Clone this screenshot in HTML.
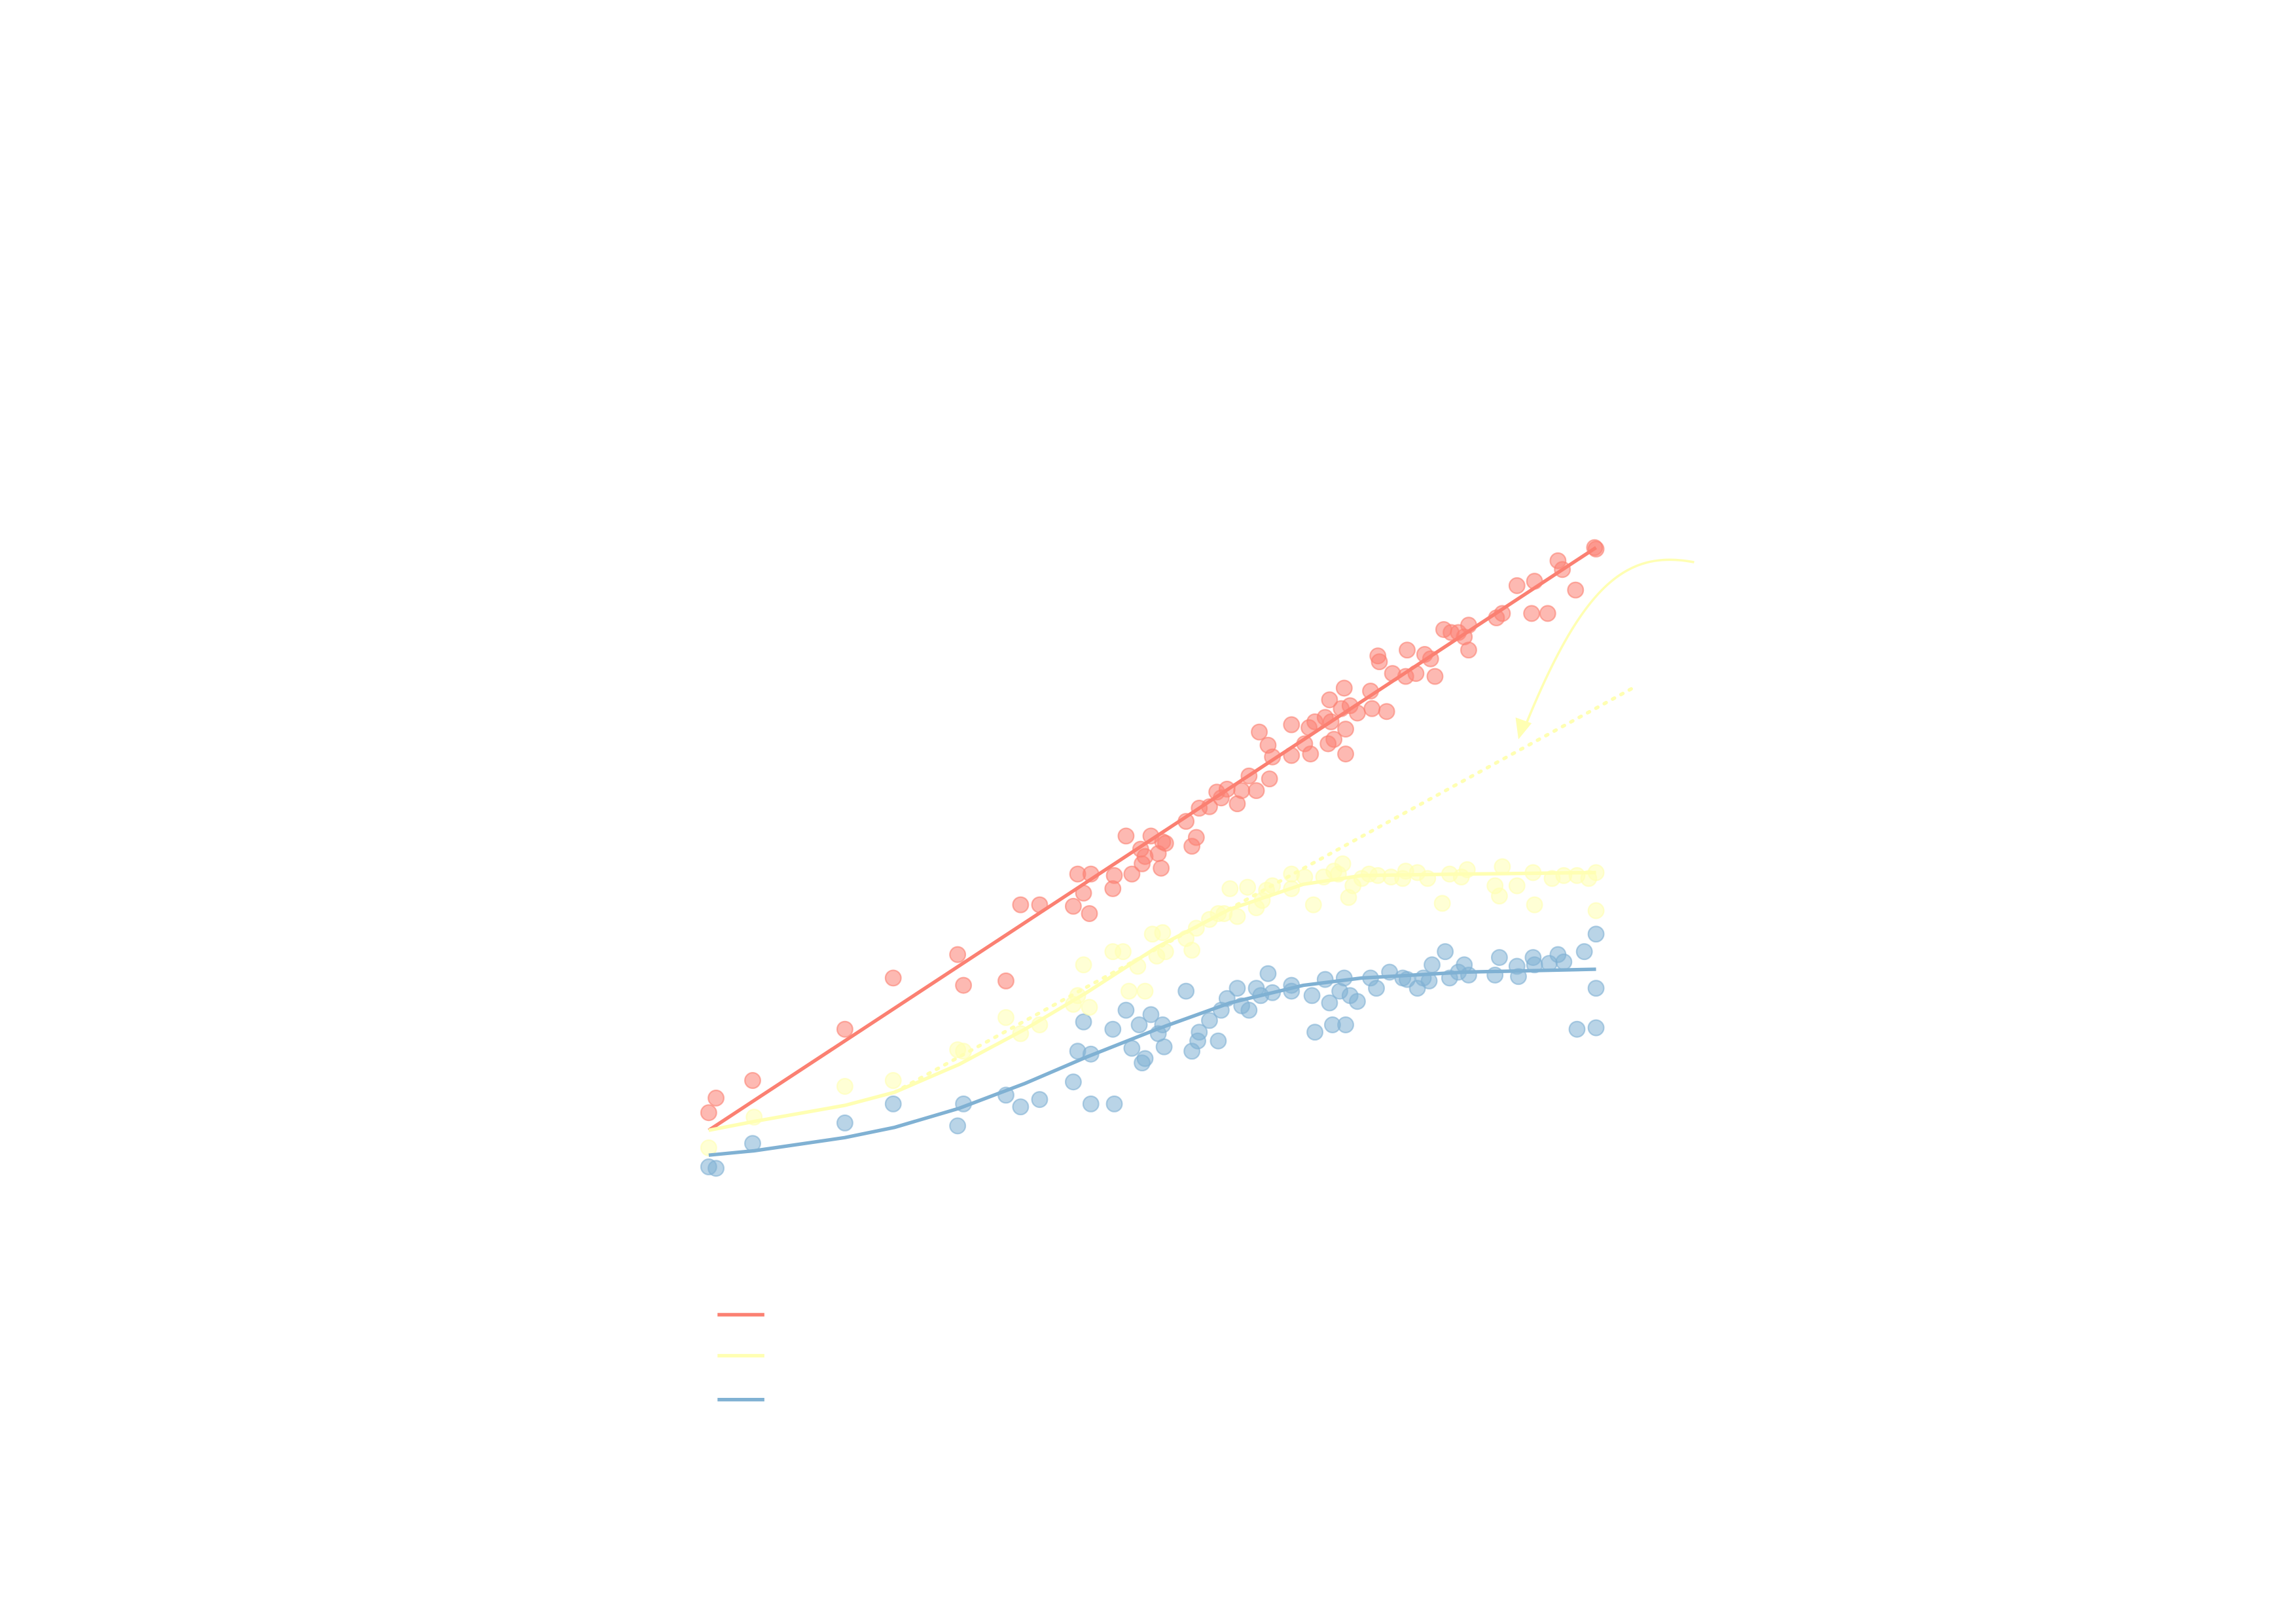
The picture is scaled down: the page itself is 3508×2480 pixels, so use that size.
<!DOCTYPE html>
<html><head><meta charset="utf-8"><style>
html,body{margin:0;padding:0;background:#fff;}
svg{display:block;}
</style></head><body>
<svg width="3508" height="2480" viewBox="0 0 1568 1108.55" xmlns="http://www.w3.org/2000/svg">
<rect width="1568" height="1108.55" fill="#fff"/>
<g id="pts"></g>
<polyline fill="none" stroke="#fb8072" stroke-width="2.4" points="484,772 1090,374"/>
<path fill="none" stroke="#ffffb3" stroke-width="2.4" stroke-dasharray="1.5,5" stroke-linecap="round" d="M611,746 L1115,470"/>
<polyline fill="none" stroke="#ffffb3" stroke-width="2.4" points="484,772 515,766 577,755 611,746 655,727 700,703 742,678 790,647 840,621 890,604 930,598 1000,597 1090,596"/>
<polyline fill="none" stroke="#80b1d3" stroke-width="2.4" points="484,789 515,786 577,777 611,770 655,757 700,740 742,722 790,703 840,685 890,673 930,668 1000,664 1090,662"/>
<path fill="none" stroke="#ffffb3" stroke-width="1.6" d="M1157,384 C1110,375 1080,400 1040,500"/>
<path fill="#ffffb3" d="M1037,505 L1035,490 L1046,494 Z"/>
<line x1="490" y1="898" x2="522" y2="898" stroke="#fb8072" stroke-width="2.4"/>
<line x1="490" y1="926" x2="522" y2="926" stroke="#ffffb3" stroke-width="2.4"/>
<line x1="490" y1="956" x2="522" y2="956" stroke="#80b1d3" stroke-width="2.4"/>
</svg>
<script>
var R=[[484,760],[489,750],[514,738],[577,703],[610,668],[654,652],[658,673],[687,670],[697,618],[710,618],[733,619],[736,597],[740,610],[744,624],[745,597],[760,607],[761,598],[769,571],[773,597],[779,580],[780,590],[782,585],[786,571],[791,583],[793,593],[794,575],[796,576],[810,561],[814,578],[817,572],[819,552],[826,551],[831,541],[834,545],[838,539],[845,549],[848,540],[853,530],[858,540],[860,500],[866,509],[867,532],[869,517],[882,495],[882,516],[891,508],[894,497],[895,515],[898,493],[905,490],[907,508],[908,478],[909,493],[911,505],[916,484],[918,470],[919,498],[919,515],[922,482],[927,487],[936,472],[937,484],[941,448],[942,452],[947,486],[951,460],[960,462],[961,444],[967,460],[973,447],[977,450],[980,462],[986,430],[991,432],[996,432],[1000,435],[1003,427],[1003,444],[1022,422],[1026,419],[1036,400],[1046,419],[1048,397],[1057,419],[1064,383],[1067,389],[1076,403],[1089,374],[1090,375]];
var Y=[[484,784],[515,763],[577,742],[610,738],[654,717],[658,718],[687,695],[697,706],[710,700],[733,686],[736,680],[740,659],[744,688],[760,650],[767,650],[771,677],[777,660],[782,677],[787,638],[790,653],[794,637],[796,650],[810,641],[814,649],[817,634],[826,628],[832,624],[836,624],[840,607],[845,626],[852,606],[858,620],[862,615],[865,608],[869,605],[882,597],[882,607],[891,599],[897,618],[904,599],[911,595],[914,597],[917,590],[921,613],[924,605],[930,600],[935,597],[941,598],[950,599],[958,600],[960,595],[968,596],[975,600],[985,617],[990,597],[998,599],[1002,594],[1021,605],[1024,612],[1026,592],[1036,605],[1047,596],[1048,618],[1060,600],[1068,598],[1077,598],[1085,600],[1090,596],[1090,622]];
var B=[[484,797],[489,798],[514,781],[577,767],[610,754],[654,769],[658,754],[687,748],[697,756],[710,751],[733,739],[736,718],[740,698],[745,720],[745,754],[760,703],[761,754],[769,690],[773,716],[778,700],[780,726],[782,723],[786,693],[791,706],[794,700],[795,715],[810,677],[814,718],[818,711],[819,705],[826,697],[832,711],[834,690],[838,682],[845,675],[848,687],[853,690],[858,675],[861,680],[866,665],[869,678],[882,673],[882,677],[896,680],[898,705],[905,669],[908,685],[910,700],[915,677],[918,668],[919,700],[922,680],[927,684],[936,668],[940,675],[949,664],[958,668],[961,669],[968,675],[972,668],[976,670],[978,659],[987,650],[990,668],[996,664],[1000,659],[1003,666],[1021,666],[1024,654],[1036,660],[1037,667],[1047,654],[1048,659],[1058,658],[1064,652],[1068,657],[1077,703],[1082,650],[1090,638],[1090,675],[1090,702]];
var g=document.getElementById('pts'),s='';
function add(a,c){a.forEach(function(p){s+='<circle cx="'+p[0]+'" cy="'+p[1]+'" r="5.3" fill="'+c+'" fill-opacity="0.55" stroke="'+c+'" stroke-opacity="0.6" stroke-width="1"/>';});}
add(B,'#80b1d3');add(Y,'#ffffb3');add(R,'#fb8072');
g.innerHTML=s;
</script>
</body></html>
